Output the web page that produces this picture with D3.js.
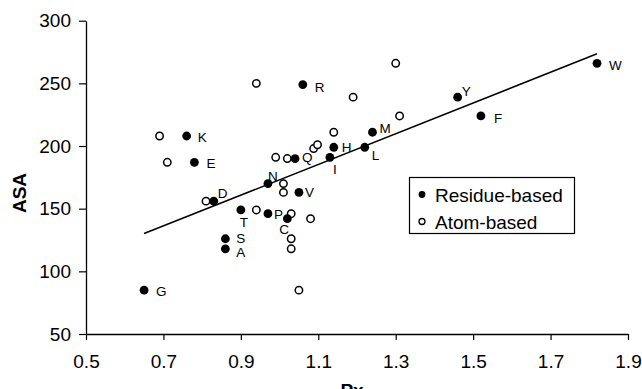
<!DOCTYPE html>
<html>
<head>
<meta charset="utf-8">
<script src="https://cdn.jsdelivr.net/npm/d3@7"></script>
<style>
  html, body { margin: 0; padding: 0; background: #fff; }
  svg { display: block; font-family: "Liberation Sans", Arial, sans-serif; }
</style>
</head>
<body>
<svg id="chart" width="642" height="389"></svg>
<script>
// ---- Data ----
const residueLabels = ["G","A","S","T","D","P","C","V","N","K","E","R","Q","H","I","L","M","Y","F","W"];
const residuePx     = [0.65,0.86,0.86,0.90,0.83,0.97,1.02,1.05,0.97,0.76,0.78,1.06,1.04,1.14,1.13,1.22,1.24,1.46,1.52,1.82];
const residueASA    = [85,118,126,149,156,146,142,163,170,208,187,249,190,199,191,199,211,239,224,266];

const atomLabels = ["G","A","S","T","D","P","C","V","N","K","E","R","Q","H","I","L","M","Y","F","W"];
const atomPx     = [1.05,1.03,1.03,0.94,0.81,1.03,1.08,1.01,1.01,0.69,0.71,0.94,1.02,1.088,0.99,1.098,1.14,1.19,1.31,1.30];
const atomASA    = [85,118,126,149,156,146,142,163,170,208,187,250,190,198,191,201,211,239,224,266];

const xTicks = [0.5,0.7,0.9,1.1,1.3,1.5,1.7,1.9];
const yTicks = [50,100,150,200,250,300];
const legendLabels = ["Residue-based","Atom-based"];

// ---- Layout (label offsets relative to each point, in pixels) ----
const labelOffset = {
  G:[12,6], A:[11,8], S:[11,4], T:[-1,17], D:[4,-3], P:[6,5], C:[-8,15], V:[6,5],
  N:[0,-3], K:[11,6], E:[12,6], R:[12,7], Q:[7,3], H:[8,5], I:[3,17], L:[7,13],
  M:[7,1], Y:[4,-1], F:[13,7], W:[12,7]
};

const svg = d3.select("#chart");
const x = d3.scaleLinear().domain([0.5, 1.9]).range([86, 628]);
const y = d3.scaleLinear().domain([50, 300]).range([334, 20.7]);

// Axes
const yAxis = d3.axisLeft(y).tickValues(yTicks).tickSize(7).tickPadding(8).tickSizeOuter(0);
const xAxis = d3.axisBottom(x).tickValues(xTicks).tickSize(6).tickPadding(15).tickSizeOuter(0)
  .tickFormat(d3.format(".1f"));

const gy = svg.append("g").attr("transform", "translate(86,0)").call(yAxis);
const gx = svg.append("g").attr("transform", "translate(0,334)").call(xAxis);
[gx, gy].forEach(g => {
  g.select(".domain").attr("stroke", "#000").attr("stroke-width", 1.3);
  g.selectAll(".tick line").attr("stroke", "#000").attr("stroke-width", 1.2);
  g.selectAll(".tick text").attr("fill", "#000").style("font-size", "19px")
    .style("font-family", '"Liberation Sans", Arial, sans-serif');
});

// Axis titles
svg.append("text").attr("x", 352).attr("y", 397).attr("text-anchor", "middle")
  .style("font-size", "19px").style("font-weight", "bold").text("Px");
svg.append("text").attr("transform", "translate(26,193) rotate(-90)").attr("text-anchor", "middle")
  .style("font-size", "19px").style("font-weight", "bold").text("ASA");

// Regression line (least squares on residue-based data)
const n = residuePx.length;
const mx = d3.mean(residuePx), my = d3.mean(residueASA);
let sxy = 0, sxx = 0;
for (let i = 0; i < n; i++) { sxy += (residuePx[i]-mx)*(residueASA[i]-my); sxx += (residuePx[i]-mx)**2; }
const slope = sxy / sxx, icpt = my - slope * mx;
const x0 = d3.min(residuePx), x1 = d3.max(residuePx);
svg.append("line")
  .attr("x1", x(x0)).attr("y1", y(icpt + slope*x0))
  .attr("x2", x(x1)).attr("y2", y(icpt + slope*x1))
  .attr("stroke", "#000").attr("stroke-width", 1.5);

// Atom-based (open)
svg.append("g").selectAll("circle").data(atomPx.map((v,i)=>({px:v, asa:atomASA[i]})))
  .join("circle").attr("cx", d=>x(d.px)).attr("cy", d=>y(d.asa)).attr("r", 3.7)
  .attr("fill", "#fff").attr("stroke", "#000").attr("stroke-width", 1.5);

// Residue-based (filled)
const rdata = residuePx.map((v,i)=>({px:v, asa:residueASA[i], lab:residueLabels[i]}));
svg.append("g").selectAll("circle").data(rdata)
  .join("circle").attr("cx", d=>x(d.px)).attr("cy", d=>y(d.asa)).attr("r", 4.4)
  .attr("fill", "#000");

svg.append("g").selectAll("text").data(rdata)
  .join("text").attr("x", d=>x(d.px)+labelOffset[d.lab][0]).attr("y", d=>y(d.asa)+labelOffset[d.lab][1])
  .style("font-size", "13.5px").attr("fill", "#000").text(d=>d.lab);

// Legend
const lg = svg.append("g");
lg.append("rect").attr("x", 409.5).attr("y", 177.5).attr("width", 165).attr("height", 56)
  .attr("fill", "#fff").attr("stroke", "#000").attr("stroke-width", 1.2);
lg.append("circle").attr("cx", 422).attr("cy", 194.5).attr("r", 3.4).attr("fill", "#000");
lg.append("circle").attr("cx", 422).attr("cy", 221.5).attr("r", 3).attr("fill", "#fff")
  .attr("stroke", "#000").attr("stroke-width", 1.3);
lg.selectAll("text.lt").data(legendLabels).join("text").attr("class","lt")
  .attr("x", 435).attr("y", (d,i)=>201.5 + i*27)
  .style("font-size", "19px").attr("fill", "#000").text(d=>d);
</script>
</body>
</html>
